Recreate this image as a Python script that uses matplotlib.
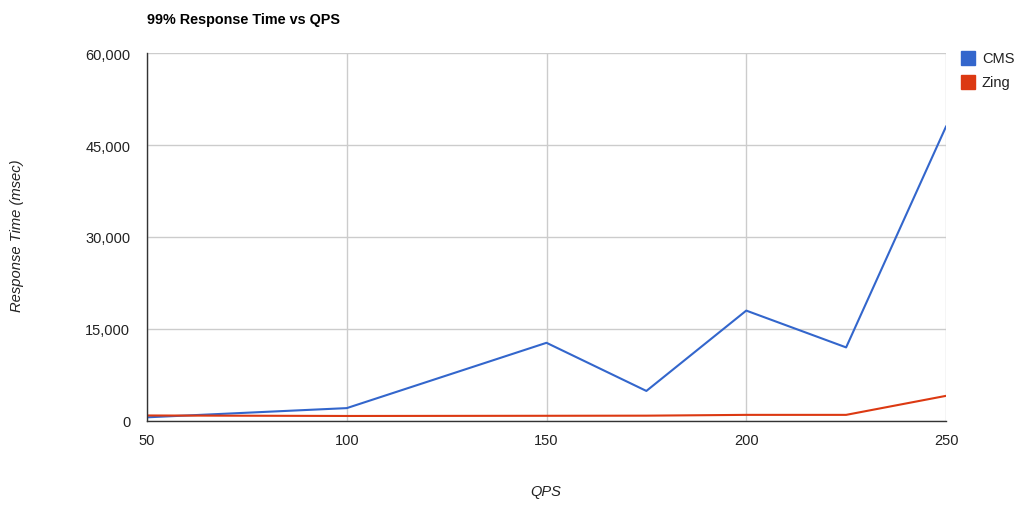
import matplotlib
matplotlib.use('Agg')
import matplotlib.pyplot as plt
from matplotlib.patches import Rectangle
from matplotlib.ticker import FuncFormatter

plt.rcParams['font.family'] = ['Liberation Sans', 'DejaVu Sans']

qps = [50, 100, 150, 175, 200, 225, 250]
cms = [600, 2100, 12750, 4900, 18000, 12000, 48000]
zing = [900, 820, 850, 870, 1000, 1000, 4100]

series = ['CMS', 'Zing']
colors = ['#3366cc', '#dc3912']

W, H = 1028, 510
fig = plt.figure(figsize=(W / 100, H / 100), dpi=100)
ax = fig.add_axes([147/W, 1 - 422/H, (946 - 147)/W, (422 - 54)/H])

for name, vals, c in zip(series, [cms, zing], colors):
    ax.plot(qps, vals, color=c, lw=1.5, label=name)

ax.set_xlim(50, 250)
ax.set_ylim(0, 60000)
ax.set_xticks([50, 100, 150, 200, 250])
ax.set_yticks([0, 15000, 30000, 45000, 60000])
ax.yaxis.set_major_formatter(FuncFormatter(lambda v, p: f'{int(v):,}'))
ax.grid(True, color='#cccccc', lw=1)
ax.set_axisbelow(True)
ax.tick_params(length=0, labelsize=10.5, colors='#222222')
ax.tick_params(axis='y', pad=12)
ax.tick_params(axis='x', pad=9)
for s in ['top', 'right']:
    ax.spines[s].set_visible(False)
for s in ['left', 'bottom']:
    ax.spines[s].set_color('#333333')
    ax.spines[s].set_linewidth(1)

fig.text(147/W, 1 - 20/H, '99% Response Time vs QPS', fontsize=10.4, fontweight='bold',
         va='center', ha='left', color='black')
fig.text(17/W, 1 - 236/H, 'Response Time (msec)', rotation=90, style='italic',
         fontsize=10.6, va='center', ha='center', color='#222222')
fig.text(546/W, 1 - 492/H, 'QPS', style='italic', fontsize=10.5,
         va='center', ha='center', color='#222222')

# legend, drawn by hand to match the boxy google-charts look
for i, (name, c) in enumerate(zip(series, colors)):
    top = 52 + i * 24
    fig.patches.append(Rectangle((961/W, 1 - (top + 14)/H), 14/W, 14/H,
                                 transform=fig.transFigure, color=c))
    fig.text(982/W, 1 - (top + 7)/H, name, fontsize=10.5, va='center', ha='left',
             color='#222222')

fig.savefig('out.png', dpi=100)
